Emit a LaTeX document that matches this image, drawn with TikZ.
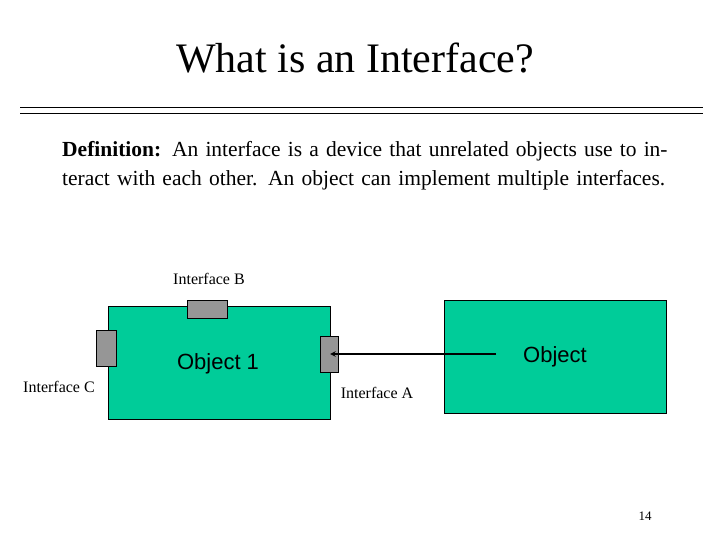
\documentclass[tikz,border=0pt]{standalone}
\usepackage{fontspec}
\setmainfont{Liberation Serif}
\newfontfamily\arialf{Liberation Sans}
\definecolor{objg}{RGB}{0,204,153}
\definecolor{ifg}{RGB}{150,150,150}
\tikzset{
  obj/.style={draw=black,fill=objg,line width=0.8pt},
  iface/.style={draw=black,fill=ifg,line width=0.8pt},
  lbl/.style={font=\fontsize{16}{18}\selectfont,inner sep=0pt},
  objtxt/.style={font=\arialf\fontsize{22}{24}\selectfont,inner sep=0pt}
}
\begin{document}
\begin{tikzpicture}[x=1pt,y=-1pt]
\useasboundingbox (0,0) rectangle (720,540);
\node[inner sep=0pt,font=\fontsize{42}{46}\selectfont] (title) at (355,58) {What is an Interface?};
\draw[line width=0.6pt] (20,107) -- (703,107);
\draw[line width=0.6pt] (20,113) -- (703,113);
\node[anchor=north west,inner sep=0pt,text width=610pt,align=left,font=\fontsize{21.5}{29}\selectfont] (def) at (62,141)
 {\hangindent=26pt\hangafter=1 \textbf{Definition:} An interface is a device that unrelated objects use to interact with each other. An object can implement multiple interfaces.};
\draw[obj] (108,306) rectangle (330,419);
\node[objtxt] (o1) at (218,364) {Object 1};
\draw[obj] (444,300) rectangle (666,413);
\node[objtxt] (o2) at (555,357) {Object};
\draw[iface] (187,300) rectangle (227,318);
\draw[iface] (96,330) rectangle (116,366);
\draw[iface] (320,336) rectangle (338,372);
\coordinate (as) at (496,354);
\coordinate (ae) at (330,354);
\draw[line width=1.5pt,-stealth] (as) -- (ae);
\node[lbl] (lb) at (209,279) {Interface B};
\node[lbl] (lc) at (59,387) {Interface C};
\node[lbl] (la) at (377,393) {Interface A};
\node[inner sep=0pt,font=\fontsize{13}{15}\selectfont] (pg) at (645,516) {14};
\end{tikzpicture}
\end{document}
